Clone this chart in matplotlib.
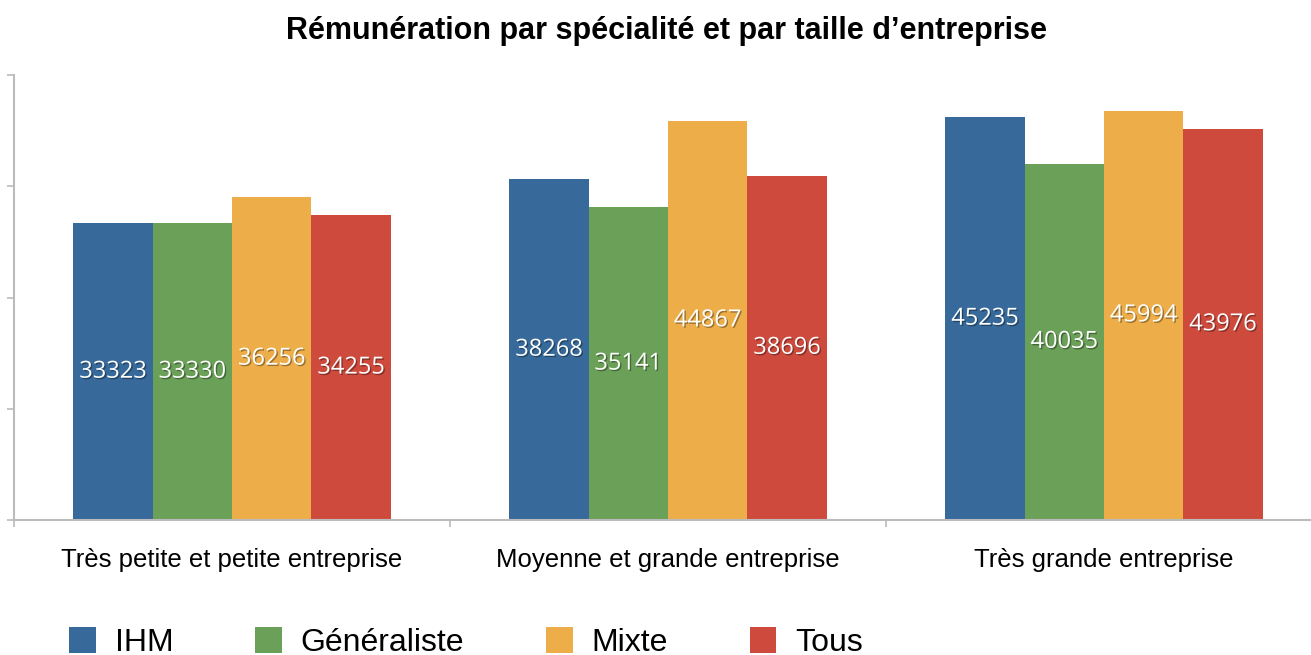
import matplotlib
matplotlib.use('Agg')
import matplotlib.pyplot as plt
import matplotlib.patheffects as pe
import numpy as np

# données
categories = ['Très petite et petite entreprise', 'Moyenne et grande entreprise', 'Très grande entreprise']
series = ['IHM', 'Généraliste', 'Mixte', 'Tous']
ihm = [33323, 38268, 45235]
generaliste = [33330, 35141, 40035]
mixte = [36256, 44867, 45994]
tous = [34255, 38696, 43976]
colors = ['#376a9b', '#6aa057', '#edae4a', '#ce4a3d']

plt.rcParams['font.family'] = ['Liberation Sans', 'DejaVu Sans']

W, H = 1311, 655
fig = plt.figure(figsize=(W / 100, H / 100), dpi=100)
ax = fig.add_axes([14 / W, (H - 520) / H, 1308 / W, 445 / H])

x = np.arange(len(categories))
bw = 0.182
values = [ihm, generaliste, mixte, tous]
for i, (name, vals) in enumerate(zip(series, values)):
    pos = x + (i - 1.5) * bw
    bars = ax.bar(pos, vals, bw, color=colors[i], label=name, linewidth=0)
    for b, v in zip(bars, vals):
        ax.text(b.get_x() + b.get_width() / 2, v / 2, str(v), ha='center', va='center',
                color='white', fontsize=17, family=['Open Sans', 'DejaVu Sans'],
                path_effects=[pe.withSimplePatchShadow(offset=(1, -1), shadow_rgbFace='black', alpha=0.35)])

ax.set_xlim(-0.5, 2.5)
ax.set_ylim(0, 50000)
ax.set_yticks([0, 12500, 25000, 37500, 50000])
ax.set_yticklabels([])
ax.set_xticks([-0.5, 0.5, 1.5, 2.5])
ax.set_xticklabels([])
ax.set_xticks(x, minor=True)
ax.set_xticklabels(categories, minor=True, fontsize=18.5)
ax.tick_params(axis='x', which='minor', length=0, pad=20)
ax.tick_params(axis='both', which='major', length=5, color='#bbbbbb', width=1.2)

for s in ['top', 'right']:
    ax.spines[s].set_visible(False)
for s in ['left', 'bottom']:
    ax.spines[s].set_color('#bbbbbb')
    ax.spines[s].set_linewidth(1.5)

fig.text(667 / W, 1 - 31 / H, 'Rémunération par spécialité et par taille d’entreprise',
         ha='center', va='center', fontsize=22, fontweight='bold')

fig.legend(loc='lower left', bbox_to_anchor=(40 / W, -32 / H), ncol=4, frameon=False,
           fontsize=23, handlelength=0.84, handleheight=0.85, handletextpad=0.6,
           columnspacing=2.55)

fig.savefig('out.png', dpi=100)
